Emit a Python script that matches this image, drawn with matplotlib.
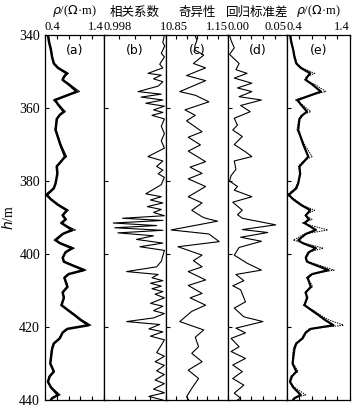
import matplotlib
matplotlib.use('Agg')
import matplotlib.pyplot as plt
from matplotlib.ticker import MultipleLocator

plt.rcParams['font.family'] = ['Liberation Serif', 'Noto Sans CJK SC', 'DejaVu Sans']
plt.rcParams['axes.unicode_minus'] = False

# resistivity, measured (thick) / fitted (thin, dotted)
rho_depth = [340, 342, 344, 346, 347.8, 349, 350.5, 351.5, 352.3, 353.5, 355.5, 356.5,
             357.8, 359, 361, 361.9, 363, 366, 368, 370, 373.3, 374.5, 376, 378,
             380.6, 382, 383.8, 385, 386.5, 388, 389.4, 390.5, 391.5, 393.4, 394.5,
             396.2, 397, 398.4, 399.5, 401, 402.1, 403, 404.4, 405.5, 406.5, 408,
             409, 410.5, 412, 414, 415.5, 416.7, 418, 419.5, 420.5, 421.5, 423.1,
             424.5, 426, 428.6, 430, 432.2, 433.5, 435, 436.5, 438.6, 439.5, 440]
rho_meas = [0.45, 0.47, 0.50, 0.52, 0.55, 0.62, 0.77, 0.72, 0.70, 0.80, 0.94, 0.78,
            0.57, 0.62, 0.72, 0.65, 0.60, 0.58, 0.62, 0.66, 0.74, 0.68, 0.60, 0.61,
            0.58, 0.55, 0.43, 0.50, 0.62, 0.77, 0.70, 0.75, 0.68, 0.86, 0.70,
            0.58, 0.65, 0.86, 0.75, 0.70, 0.72, 0.85, 1.06, 0.80, 0.73, 0.76,
            0.78, 0.70, 0.72, 0.68, 0.80, 0.90, 1.00, 1.14, 0.78, 0.70, 0.65,
            0.55, 0.52, 0.50, 0.49, 0.55, 0.48, 0.45, 0.50, 0.62, 0.52, 0.50]
rho_fit_a = [0.46, 0.47, 0.51, 0.52, 0.56, 0.63, 0.80, 0.71, 0.69, 0.82, 0.99, 0.77,
             0.54, 0.63, 0.75, 0.64, 0.60, 0.57, 0.62, 0.67, 0.77, 0.67, 0.59, 0.61,
             0.58, 0.54, 0.40, 0.51, 0.63, 0.80, 0.69, 0.77, 0.66, 0.92, 0.69,
             0.55, 0.66, 0.90, 0.74, 0.70, 0.73, 0.87, 1.10, 0.79, 0.72, 0.77,
             0.79, 0.69, 0.73, 0.67, 0.81, 0.91, 1.02, 1.18, 0.76, 0.70, 0.64,
             0.55, 0.51, 0.50, 0.49, 0.56, 0.47, 0.45, 0.51, 0.66, 0.51, 0.50]
rho_fit_e = [0.46, 0.48, 0.50, 0.53, 0.56, 0.64, 0.84, 0.71, 0.68, 0.84, 1.02, 0.76,
             0.53, 0.64, 0.78, 0.63, 0.59, 0.56, 0.63, 0.68, 0.80, 0.66, 0.58, 0.62,
             0.57, 0.53, 0.40, 0.52, 0.64, 0.84, 0.68, 0.80, 0.64, 1.05, 0.68,
             0.50, 0.67, 0.98, 0.73, 0.69, 0.74, 0.90, 1.15, 0.78, 0.71, 0.78,
             0.81, 0.68, 0.74, 0.66, 0.83, 0.93, 1.06, 1.30, 0.75, 0.69, 0.63,
             0.54, 0.50, 0.49, 0.50, 0.58, 0.46, 0.44, 0.52, 0.70, 0.50, 0.49]

# correlation coefficient
corr_depth = [340, 342, 343, 345, 346, 348, 349, 350.5, 351, 352, 352.8, 354, 355.5,
              356.2, 357, 357.8, 358.7, 359.5, 360.5, 361.2, 362, 363, 365, 367, 369,
              371, 373.3, 374.5, 376, 377, 378, 379, 381, 383.5, 384.3, 385.2, 386,
              387, 387.8, 388.6, 389.5, 390.2, 390.8, 391.5, 392.2, 392.8, 393.5,
              394.2, 395, 396, 397, 398, 399, 400.5, 402, 403.5, 404.8, 405.6, 406.5,
              407.3, 408, 408.8, 409.5, 410.3, 411, 412, 413.5, 414.3, 415.5, 416.3,
              417.5, 418.5, 419.3, 420.5, 421.3, 422.5, 423.5, 425, 427, 428, 429.5,
              430.5, 432, 433, 434.5, 435.5, 437, 438, 439, 440]
corr_val = [0.99995, 0.99990, 0.99996, 0.99985, 0.99995, 0.99980, 0.99990, 0.99942,
            0.99985, 0.99960, 0.99990, 0.99975, 0.99910, 0.99985, 0.99920, 0.99990,
            0.99935, 0.99995, 0.99960, 0.99990, 0.99955, 0.99995, 0.99985, 0.99995,
            0.99985, 0.99995, 0.99942, 0.99990, 0.99970, 0.99990, 0.99975, 0.99995,
            0.99985, 0.99935, 0.99985, 0.99950, 0.99990, 0.99940, 0.99985, 0.99960,
            0.99995, 0.99860, 0.99990, 0.99830, 0.99970, 0.99835, 0.99990, 0.99845,
            0.99960, 0.99905, 0.99990, 0.99916, 0.99995, 0.99990, 0.99985, 0.99970,
            0.99873, 0.99975, 0.99955, 0.99990, 0.99950, 0.99985, 0.99955, 0.99990,
            0.99965, 0.99995, 0.99950, 0.99990, 0.99960, 0.99995, 0.99960, 0.99873,
            0.99980, 0.99945, 0.99990, 0.99950, 0.99995, 0.99985, 0.99970, 0.99995,
            0.99965, 0.99995, 0.99970, 0.99995, 0.99965, 0.99995, 0.99960, 0.99995,
            0.99945, 0.99990]

# singularity
sing_depth = [340, 341.4, 343, 344.1, 345.5, 347.8, 349, 351.1, 352.5, 355.5, 356.5,
              358.3, 360.5, 362, 363.5, 366.5, 368, 370.1, 371.8, 374.7, 376.2, 377.9,
              379.4, 381.5, 384.3, 386, 388, 389.8, 390.2, 391, 393.4, 394.5, 396.6,
              398, 400.3, 401.8, 403.5, 404.8, 407.1, 408.6, 410.8, 412, 414, 415.7,
              418.5, 420.8, 422.8, 425.4, 427.2, 429.5, 431.8, 434.1, 436.8, 439.1, 440]
sing_val = [0.99, 1.00, 0.99, 0.99, 1.033, 0.983, 1.042, 0.95, 1.042, 0.917, 0.992,
            1.058, 0.942, 0.992, 0.95, 1.025, 0.958, 1.017, 0.958, 1.042, 0.967, 1.025,
            0.958, 1.042, 0.958, 1.025, 0.975, 1.025, 1.042, 1.10, 0.875, 1.058, 1.108,
            0.908, 1.025, 0.983, 1.025, 0.958, 1.042, 0.958, 1.025, 0.967, 1.042,
            0.975, 0.917, 1.033, 0.992, 1.008, 0.975, 1.025, 0.958, 1.008, 0.975,
            0.95, 0.96]

# regression standard deviation
std_depth = [340, 341.5, 343.5, 345.3, 347.8, 349.5, 350.5, 351.8, 353.2, 354.5, 355.5,
             356.9, 357.8, 359.3, 361, 362.8, 364.7, 366, 367.8, 370, 372, 373.3,
             374.5, 376.8, 378.5, 380, 381.5, 382.5, 384.3, 385.8, 388, 389.2, 390.2,
             392, 393.3, 394.1, 395.4, 396.5, 398.2, 400.3, 402.5, 404.4, 405.6, 407.3,
             408.7, 409.8, 413.1, 414.8, 417.2, 418.5, 420.3, 421.6, 423.1, 425.4,
             426.7, 428.6, 430.4, 432.2, 434.1, 435.9, 438.1, 439.5, 440]
std_val = [0.0014, 0.0027, 0.0054, 0.0014, 0.0095, 0.0068, 0.0162, 0.0054, 0.0203,
           0.0081, 0.0203, 0.0095, 0.0284, 0.0108, 0.0189, 0.0054, 0.0081, 0.0041,
           0.0122, 0.0054, 0.0149, 0.0203, 0.0054, 0.0068, 0.0027, 0.0014, 0.0081,
           0.0054, 0.0203, 0.0041, 0.0122, 0.0081, 0.0122, 0.0405, 0.0122, 0.0338,
           0.0108, 0.0284, 0.0095, 0.0054, 0.0162, 0.0284, 0.0068, 0.0135, 0.0041,
           0.0108, 0.0149, 0.0054, 0.0135, 0.0297, 0.0068, 0.0149, 0.0027, 0.0095,
           0.0027, 0.0149, 0.0041, 0.0122, 0.0041, 0.0135, 0.0054, 0.0108, 0.0080]

headers = [r'$\rho$/($\Omega$·m)', '相关系数', '奇异性', '回归标准差', r'$\rho$/($\Omega$·m)']
letters = ['(a)', '(b)', '(c)', '(d)', '(e)']
xlims = [(0.4, 1.4), (0.998, 1.0), (0.85, 1.15), (0.0, 0.05), (0.4, 1.4)]
xlabels = [('0.4', '1.4'), ('0.998', '1'), ('0.85', '1.15'), ('0.00', '0.05'), ('0.4', '1.4')]
xsteps = [0.2, 0.0005, 0.05, 0.01, 0.2]

fig = plt.figure(figsize=(3.57, 4.12), dpi=100)
axes = fig.subplots(1, 5, sharey=True, gridspec_kw=dict(width_ratios=[59, 62, 62, 59, 63]))
fig.subplots_adjust(left=0.126, right=0.980, bottom=0.029, top=0.915, wspace=0)

axes[0].plot(rho_fit_a, rho_depth, color='black', lw=0.6)
axes[0].plot(rho_meas, rho_depth, color='black', lw=1.8)
axes[1].plot(corr_val, corr_depth, color='black', lw=0.8)
axes[2].plot(sing_val, sing_depth, color='black', lw=0.8)
axes[3].plot(std_val, std_depth, color='black', lw=0.8)
axes[4].plot(rho_fit_e, rho_depth, color='black', lw=0.7, ls=(0, (1.5, 1)))
axes[4].plot(rho_meas, rho_depth, color='black', lw=1.6)

for i, ax in enumerate(axes):
    ax.set_xlim(*xlims[i])
    ax.set_ylim(440, 340)
    ax.xaxis.set_major_locator(MultipleLocator(xsteps[i]))
    ax.tick_params(axis='x', which='both', direction='in', top=True, bottom=True,
                   labeltop=False, labelbottom=False, length=3, width=0.8)
    ax.tick_params(axis='y', direction='in', length=3, width=0.8, left=True,
                   labelleft=(i == 0), labelsize=10)
    for s in ax.spines.values():
        s.set_linewidth(0.9)
    ax.text(0.0, 1.005, xlabels[i][0], transform=ax.transAxes, ha='left', va='bottom',
            fontsize=9)
    ax.text(1.0, 1.005, xlabels[i][1], transform=ax.transAxes, ha='right', va='bottom',
            fontsize=9)
    ax.text(0.5, 1.045, headers[i], transform=ax.transAxes, ha='center', va='bottom',
            fontsize=9, family=['Noto Sans CJK SC', 'DejaVu Sans'] if i in (1, 2, 3) else None)
    ax.text(0.5, 0.975, letters[i], transform=ax.transAxes, ha='center', va='top',
            fontsize=9, family=['DejaVu Sans'])

axes[0].yaxis.set_major_locator(MultipleLocator(20))
axes[0].set_ylabel(r'$h$/m', fontsize=10, labelpad=2)

fig.savefig('out.png', dpi=100)
